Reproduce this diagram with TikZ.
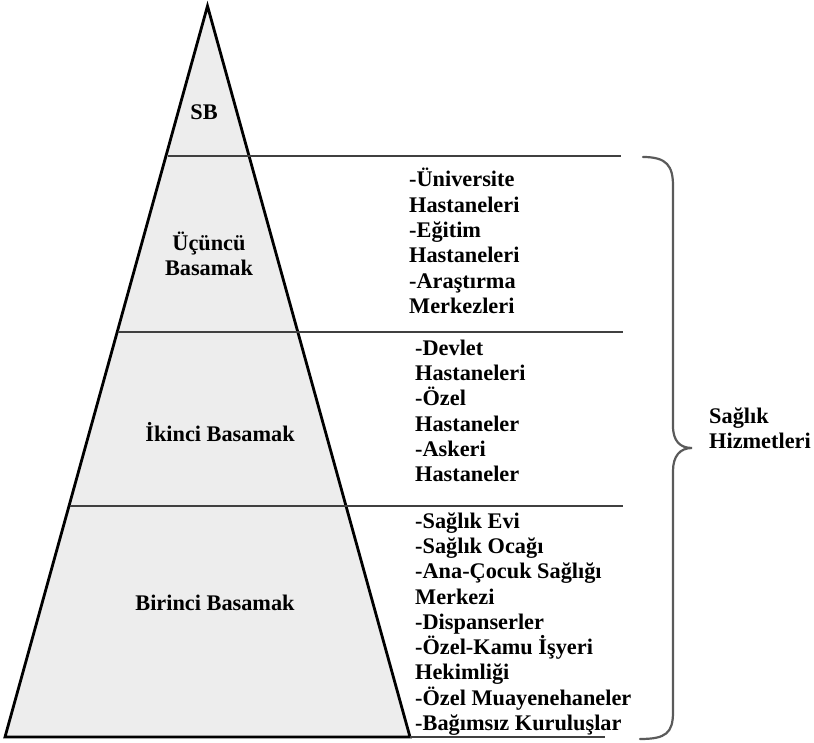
\documentclass[tikz,border=0pt]{standalone}
\usepackage{fontspec}
\setmainfont{Liberation Serif}
\definecolor{pyrfill}{HTML}{EDEDED}
\definecolor{linegray}{HTML}{404040}
\definecolor{bracegray}{HTML}{5A5A5A}
\tikzset{
  lbl/.style={font=\bfseries\fontsize{22.3}{25.3}\selectfont, inner sep=0pt, align=center},
  lst/.style={font=\bfseries\fontsize{22.3}{25.3}\selectfont, inner sep=0pt, align=left, anchor=west},
  sepline/.style={draw=linegray, line width=1.4pt},
  pyr/.style={draw=black, line width=2.8pt, fill=pyrfill, line join=miter},
  bracepath/.style={draw=bracegray, line width=2.2pt, line cap=round}
}
\begin{document}
\begin{tikzpicture}[x=1pt,y=-1pt]
\useasboundingbox (0,0) rectangle (814,743);
% pyramid
\coordinate (apex) at (207.5,6);
\coordinate (bl) at (5,737);
\coordinate (br) at (410,737);
\draw[pyr] (apex) -- (br) -- (bl) -- cycle;
% separator lines
\coordinate (l1a) at (168,156); \coordinate (l1b) at (621,156);
\coordinate (l2a) at (118,332); \coordinate (l2b) at (623,332);
\coordinate (l3a) at (70,506);  \coordinate (l3b) at (623,506);
\coordinate (l4b) at (605,737);
\draw[sepline] (l1a) -- (l1b);
\draw[sepline] (l2a) -- (l2b);
\draw[sepline] (l3a) -- (l3b);
\draw[sepline] (br) -- (l4b);
% level labels
\node[lbl] (sb) at (204,112) {SB};
\node[lbl] (ucuncu) at (209,254) {Üçüncü\\Basamak};
\node[lbl] (ikinci) at (220,432) {İkinci Basamak};
\node[lbl] (birinci) at (215,603) {Birinci Basamak};
% lists
\node[lst] (list3) at (409,241) {-Üniversite\\Hastaneleri\\-Eğitim\\Hastaneleri\\-Araştırma\\Merkezleri};
\node[lst] (list2) at (415,411) {-Devlet\\Hastaneleri\\-Özel\\Hastaneler\\-Askeri\\Hastaneler};
\node[lst] (list1) at (415,624) {-Sağlık Evi\\-Sağlık Ocağı\\-Ana-Çocuk Sağlığı\\Merkezi\\-Dispanserler\\-Özel-Kamu İşyeri\\Hekimliği\\-Özel Muayenehaneler\\-Bağımsız Kuruluşlar};
% brace
\coordinate (bt) at (643,157);
\coordinate (btip) at (692,448);
\coordinate (bb) at (640,739);
\draw[bracepath] (bt) .. controls (667,157) and (673,166) .. (673,186)
  -- (673,426) .. controls (673,441) and (680,448) .. (btip)
  .. controls (680,448) and (673,456) .. (673,471)
  -- (673,712) .. controls (673,733) and (666,739) .. (bb);
\node[lst] (saglik) at (709,428) {Sağlık\\Hizmetleri};
\end{tikzpicture}
\end{document}
